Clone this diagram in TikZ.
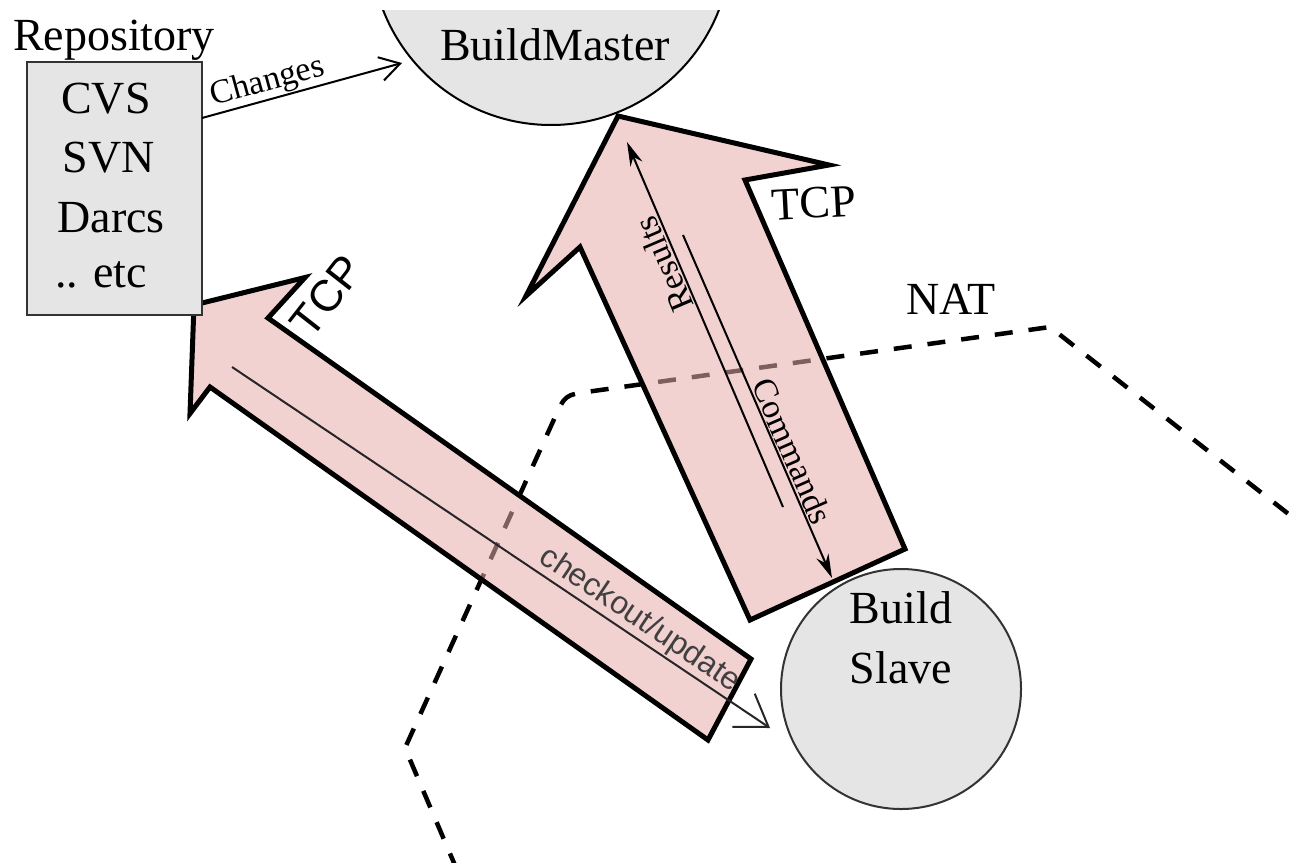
\documentclass[tikz,border=0pt]{standalone}
\usepackage{fontspec}
\setmainfont{Liberation Serif}
\newfontfamily\sansfam{Liberation Sans}
\usetikzlibrary{arrows.meta}
\definecolor{boxgrey}{RGB}{229,229,229}
\definecolor{pinkfill}{RGB}{232,172,172}
\newcommand\bigfnt{\fontsize{46}{55}\selectfont}
\newcommand\smfnt{\fontsize{34}{40}\selectfont}
\newcommand\sansbig{\sansfam\fontsize{44}{50}\selectfont}
\newcommand\sanssm{\sansfam\fontsize{32}{38}\selectfont}
\begin{document}
\begin{tikzpicture}[x=1pt,y=-1pt,
  bigarrow/.style={draw=black, line width=5pt, line join=miter, miter limit=12, fill=pinkfill, fill opacity=0.55},
  thinarrow/.style={draw=black, line width=2pt, -{Straight Barb[length=20pt,width=24pt]}},
  innerarrow/.style={draw=black, line width=2pt, -{Stealth[length=24pt,width=13pt]}},
  natline/.style={draw=black, line width=4.5pt, dash pattern=on 18pt off 16pt},
  lbl/.style={inner sep=0pt, font=\bigfnt, anchor=base},
  smlbl/.style={inner sep=1.5pt, font=\smfnt},
  circnode/.style={circle, fill=boxgrey, line width=2pt, inner sep=0pt},
]
\useasboundingbox (0,0) rectangle (1289,862);
\clip (0,0) rectangle (1289,862);

% NAT boundary
\draw[natline] (457,870) -- (405,748) -- (554.7,417.8) .. controls (565,395) .. (589.8,391.5) -- (1050,327) -- (1300,523);

% machines
\begin{scope}
  \clip (0,10) rectangle (1289,862);
  \node[circnode, draw=black, minimum size=360pt] (master) at (551,-55) {};
\end{scope}
\node[circnode, draw=black!80, minimum size=240pt] (slave) at (901,689) {};

% big TCP arrows
\draw[bigarrow] (618,116) -- (829,165) -- (745,180) -- (905,549) -- (750,620) -- (580,247) -- (526,296) -- cycle;
\draw[bigarrow] (194,305) -- (305,277.5) -- (268,318) -- (751,659) -- (708,740) -- (210,387) -- (190,413.5) -- cycle;

% repository box
\node[draw=black!80, line width=2.5pt, fill=boxgrey, minimum width=175pt, minimum height=253pt, inner sep=0pt] (repo) at (114.5,188.5) {};

% inner connectors
\coordinate (resS) at (783,507);
\coordinate (resE) at (627,142);
\coordinate (comS) at (683,235);
\coordinate (comE) at (832,578);
\coordinate (coS) at (232,367);
\coordinate (coE) at (770,728);
\coordinate (chS) at (202,118);
\coordinate (chE) at (402,63);

\draw[innerarrow] (resS) -- node[smlbl, sloped, allow upside down, above, pos=0.68] (reslbl) {Results} (resE);
\draw[innerarrow] (comS) -- node[smlbl, sloped, above, pos=0.647] (comlbl) {Commands} (comE);
\draw[draw=black!85, line width=2pt, -{Straight Barb[length=30pt,width=40pt]}] (coS) -- node[sloped, above, inner sep=1.5pt, pos=0.74, font=\sanssm, text=black!75] (colbl) {checkout/update} (coE);
\draw[thinarrow] (chS) -- node[smlbl, sloped, above, inner sep=0.5pt, pos=0.35] (chlbl) {Changes} (chE);

% texts
\node[lbl] (replbl) at (114,50) {Repository};
\node[lbl] (cvs) at (106,113) {CVS};
\node[lbl] (svn) at (109,172) {SVN};
\node[lbl] (darcs) at (111,232) {Darcs};
\node[lbl] (etc) at (101,287) {.. etc};
\node[lbl] (bmlbl) at (555,60) {BuildMaster};
\node[lbl] (bslbl1) at (901,623) {Build};
\node[lbl] (bslbl2) at (901,683) {Slave};
\node[lbl, rotate=3] (tcpA) at (815,218) {TCP};
\node[lbl] (natlbl) at (951,314) {NAT};
\node[inner sep=0pt, font=\sansbig, rotate=52] (tcpB) at (327,296) {TCP};
\end{tikzpicture}
\end{document}
